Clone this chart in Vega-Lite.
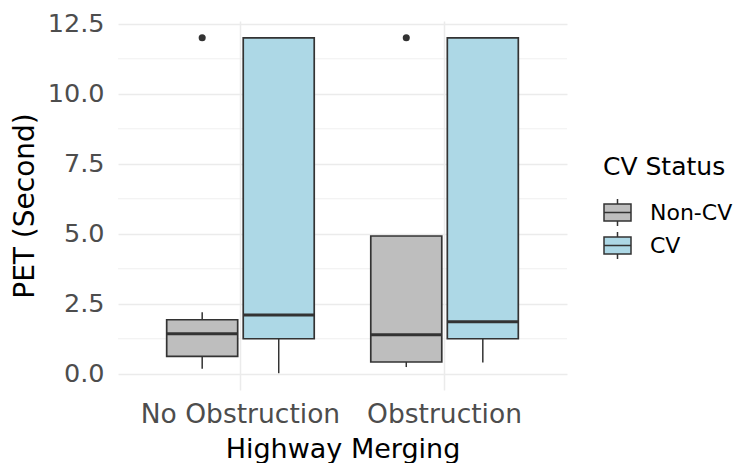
{
  "$schema": "https://vega.github.io/schema/vega-lite/v6.json",
  "autosize": "none",
  "width": 449,
  "height": 369,
  "padding": {"left": 118, "top": 21, "right": 171, "bottom": 73},
  "background": "white",
  "config": {
    "view": {"stroke": null},
    "font": "DejaVu Sans"
  },
  "datasets": {
    "stats": [
      {"merge": "No Obstruction", "cv": "Non-CV", "lo": 0.18, "q1": 0.62, "med": 1.43, "q3": 1.93, "hi": 2.2},
      {"merge": "No Obstruction", "cv": "CV", "lo": 0.02, "q1": 1.25, "med": 2.1, "q3": 12, "hi": 12},
      {"merge": "Obstruction", "cv": "Non-CV", "lo": 0.24, "q1": 0.42, "med": 1.39, "q3": 4.92, "hi": 4.92},
      {"merge": "Obstruction", "cv": "CV", "lo": 0.4, "q1": 1.25, "med": 1.86, "q3": 12, "hi": 12}
    ],
    "outliers": [
      {"merge": "No Obstruction", "cv": "Non-CV", "pet": 12},
      {"merge": "Obstruction", "cv": "Non-CV", "pet": 12}
    ],
    "minor": [
      {"g": 1.25}, {"g": 3.75}, {"g": 6.25}, {"g": 8.75}, {"g": 11.25}
    ]
  },
  "layer": [
    {
      "data": {"name": "minor"},
      "mark": {"type": "rule", "color": "#EBEBEB", "strokeWidth": 0.8},
      "encoding": {
        "y": {"field": "g", "type": "quantitative", "scale": {"domain": [-0.58, 12.6], "nice": false, "zero": false}}
      }
    },
    {
      "data": {"name": "stats"},
      "mark": {"type": "rule", "color": "#333333", "strokeWidth": 1.5, "opacity": 1},
      "encoding": {
        "x": {"field": "merge", "type": "nominal"},
        "xOffset": {"field": "cv", "type": "nominal"},
        "y": {"field": "lo", "type": "quantitative"},
        "y2": {"field": "q1"}
      }
    },
    {
      "data": {"name": "stats"},
      "mark": {"type": "rule", "color": "#333333", "strokeWidth": 1.5, "opacity": 1},
      "encoding": {
        "x": {"field": "merge", "type": "nominal"},
        "xOffset": {"field": "cv", "type": "nominal"},
        "y": {"field": "q3", "type": "quantitative"},
        "y2": {"field": "hi"}
      }
    },
    {
      "data": {"name": "stats"},
      "mark": {"type": "bar", "size": 71, "stroke": "#333333", "strokeWidth": 1.7, "opacity": 1},
      "encoding": {
        "x": {
          "field": "merge", "type": "nominal",
          "scale": {"domain": ["No Obstruction", "Obstruction"], "paddingInner": 0.25, "paddingOuter": 0.225},
          "axis": {
            "title": "Highway Merging", "titleFontSize": 27, "titleFontWeight": "normal", "titleColor": "#000000",
            "titlePadding": 9,
            "labelFontSize": 26.5, "labelColor": "#4D4D4D", "labelAngle": 0, "labelPadding": 24,
            "labelAlign": "center", "labelLimit": 0, "labelOverlap": false, "labelFlush": false,
            "ticks": false, "domain": false, "grid": true, "gridColor": "#EBEBEB", "gridWidth": 1.5, "bandPosition": 0.5
          }
        },
        "xOffset": {"field": "cv", "type": "nominal", "scale": {"domain": ["Non-CV", "CV"], "paddingInner": 0, "paddingOuter": 0}},
        "y": {
          "field": "q1", "type": "quantitative",
          "scale": {"domain": [-0.58, 12.6], "nice": false, "zero": false},
          "axis": {
            "values": [0, 2.5, 5, 7.5, 10, 12.5], "format": ".1f",
            "title": "PET (Second)", "titleFontSize": 28, "titleFontWeight": "normal", "titleColor": "#000000",
            "titlePadding": 8,
            "labelFontSize": 25.5, "labelColor": "#4D4D4D", "labelPadding": 14,
            "ticks": false, "domain": false, "grid": true, "gridColor": "#EBEBEB", "gridWidth": 1.5
          }
        },
        "y2": {"field": "q3"},
        "color": {
          "field": "cv", "type": "nominal",
          "scale": {"domain": ["Non-CV", "CV"], "range": ["#BEBEBE", "#ADD8E6"]},
          "legend": {
            "title": "CV Status", "orient": "none", "legendX": 485, "legendY": 134,
            "titleFontSize": 25, "titleFontWeight": "normal", "titleColor": "#000000", "titlePadding": 18,
            "labelFontSize": 22, "labelColor": "#000000", "labelOffset": 18,
            "symbolType": "M-1,-0.63H1V0.63H-1Z M-1,0H1 M0,-0.63V-1 M0,0.63V1",
            "symbolSize": 729, "symbolStrokeColor": "#333333", "symbolStrokeWidth": 1.5, "symbolOpacity": 1,
            "rowPadding": 0
          }
        }
      }
    },
    {
      "data": {"name": "stats"},
      "mark": {"type": "tick", "color": "#333333", "size": 71, "thickness": 3, "opacity": 1},
      "encoding": {
        "x": {"field": "merge", "type": "nominal"},
        "xOffset": {"field": "cv", "type": "nominal"},
        "y": {"field": "med", "type": "quantitative"}
      }
    },
    {
      "data": {"name": "outliers"},
      "mark": {"type": "point", "filled": true, "color": "#333333", "size": 50, "opacity": 1},
      "encoding": {
        "x": {"field": "merge", "type": "nominal"},
        "xOffset": {"field": "cv", "type": "nominal"},
        "y": {"field": "pet", "type": "quantitative"}
      }
    }
  ]
}
